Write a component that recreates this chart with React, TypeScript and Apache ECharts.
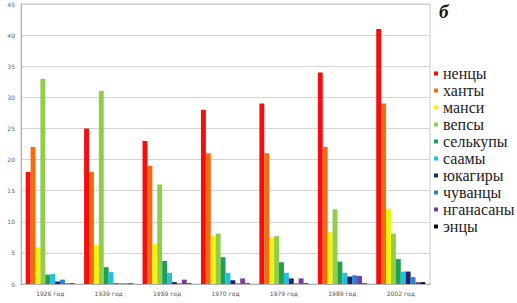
import React, { useEffect, useRef } from "react";
import * as echarts from "echarts";

const categories = ["1926 год", "1939 год", "1959 год", "1970 год", "1979 год", "1989 год", "2002 год"];
const seriesNames = ["ненцы", "ханты", "манси", "вепсы", "селькупы", "саамы", "юкагиры", "чуванцы", "нганасаны", "энцы"];
const nentsy = [18, 25, 23, 28, 29, 34, 41];
const khanty = [22, 18, 19, 21, 21, 22, 29];
const mansi = [5.9, 6.3, 6.4, 7.7, 7.5, 8.3, 12.1];
const vepsy = [33, 31, 16, 8.1, 7.7, 12, 8.1];
const selkupy = [1.5, 2.7, 3.7, 4.3, 3.5, 3.6, 4.0];
const saamy = [1.6, 1.9, 1.8, 1.8, 1.8, 1.8, 2.0];
const yukagiry = [0.4, 0.1, 0.3, 0.6, 0.9, 1.2, 2.0];
const chuvantsy = [0.7, 0.1, 0.1, 0.1, 0.1, 1.4, 1.1];
const nganasany = [0.1, 0.1, 0.7, 0.9, 0.9, 1.3, 0.3];
const entsy = [0.1, 0.1, 0.1, 0.1, 0.1, 0.1, 0.3];
const allValues = [nentsy, khanty, mansi, vepsy, selkupy, saamy, yukagiry, chuvantsy, nganasany, entsy];
const colors = ["#f80c0c", "#f86a10", "#f8f20a", "#8fce4a", "#1ea050", "#1ec0e8", "#1a2468", "#2a7fd0", "#7a3aa0", "#111111"];

export default function App() {
  const ref = useRef<HTMLDivElement>(null);
  useEffect(() => {
    document.body.style.margin = "0";
    const chart = echarts.init(ref.current!, null, { renderer: "svg" });
    chart.setOption({
      animation: false,
      backgroundColor: "#ffffff",
      grid: {
        left: 21,
        right: 87,
        top: 4,
        bottom: 19,
        show: true,
        borderColor: "#c8c8c8",
        borderWidth: 1,
      },
      legend: {
        orient: "vertical",
        left: 429,
        top: 60,
        icon: "rect",
        itemWidth: 4,
        itemHeight: 4,
        itemGap: 0,
        data: seriesNames,
        textStyle: {
          fontFamily: "'Liberation Serif', 'DejaVu Serif', serif",
          fontSize: 16,
          lineHeight: 17,
          color: "#222",
          padding: [0, 0, 0, 0],
        },
      },
      graphic: [
        {
          type: "text",
          left: 439,
          top: 2,
          style: {
            text: "б",
            font: "italic bold 19px 'Liberation Serif'",
            fill: "#111",
          },
        },
      ],
      xAxis: {
        type: "category",
        data: categories,
        axisTick: { show: false },
        axisLine: { lineStyle: { color: "#b0b0b0" } },
        axisLabel: { fontSize: 6, color: "#555", margin: 6, fontFamily: "DejaVu Sans" },
      },
      yAxis: {
        type: "value",
        min: 0,
        max: 45,
        interval: 5,
        axisLine: { show: true, lineStyle: { color: "#b0b0b0" } },
        axisLabel: { fontSize: 6, color: "#666", margin: 6, fontFamily: "DejaVu Sans" },
        splitLine: { lineStyle: { color: "#d4d4d4" } },
      },
      series: seriesNames.map((name, i) => ({
        name,
        type: "bar",
        data: allValues[i],
        barGap: "0%",
        barCategoryGap: "16%",
        itemStyle: { color: colors[i] },
      })),
    });
    return () => chart.dispose();
  }, []);
  return <div ref={ref} style={{ position: "absolute", left: 0, top: 0, width: 517, height: 303 }} />;
}
